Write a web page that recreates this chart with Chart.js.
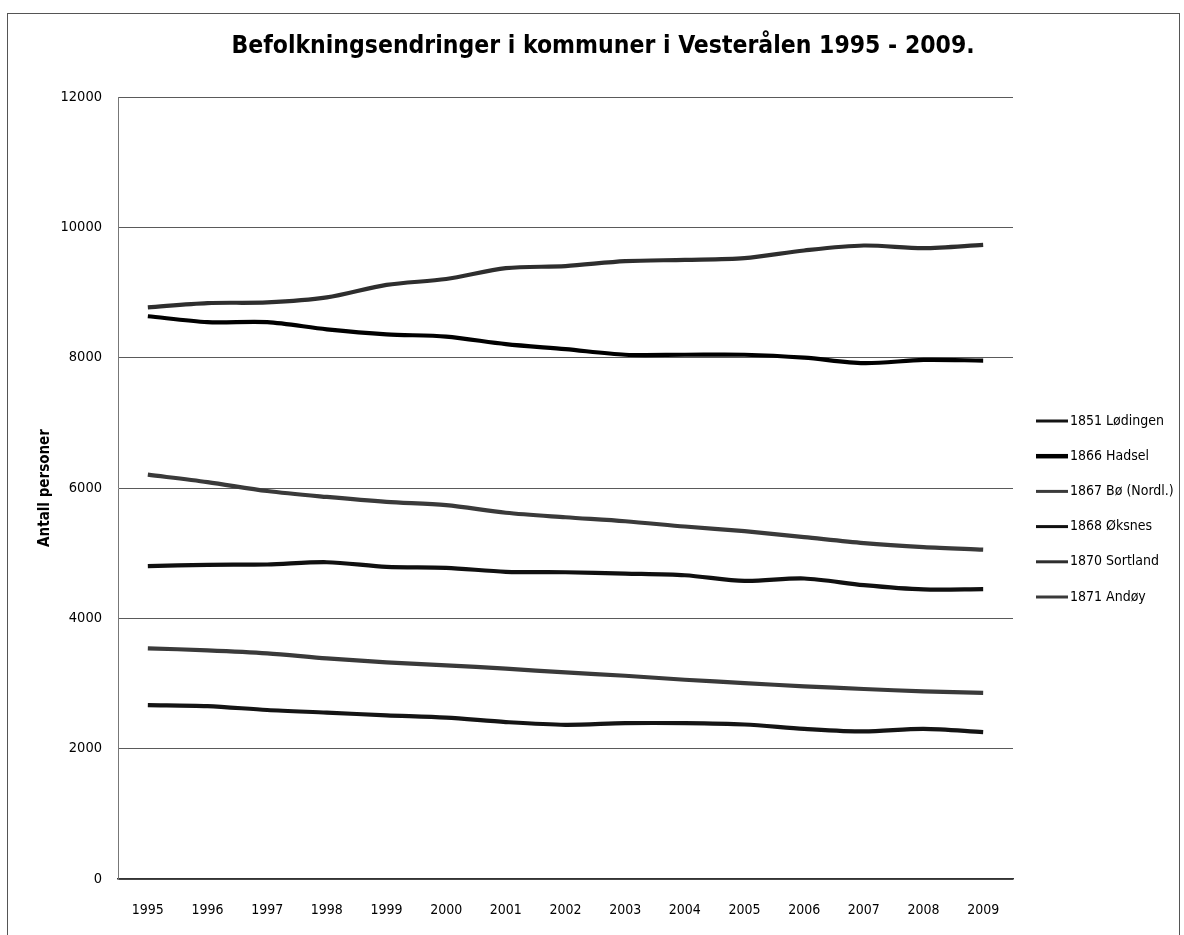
<!DOCTYPE html>
<html><head><meta charset="utf-8">
<script src="https://cdn.jsdelivr.net/npm/chart.js@4.4.1/dist/chart.umd.min.js"></script>
<style>html,body{margin:0;padding:0;background:#fff}canvas{display:block}</style>
</head><body>
<canvas id="c" width="1184" height="935" style="width:1184px;height:935px"></canvas>
<script>
const years = ['1995','1996','1997','1998','1999','2000','2001','2002','2003','2004','2005','2006','2007','2008','2009'];
const seriesNames = ['1851 Lødingen','1866 Hadsel','1867 Bø (Nordl.)','1868 Øksnes','1870 Sortland','1871 Andøy'];
const lodingen = [2669, 2654, 2593, 2553, 2511, 2476, 2408, 2366, 2391, 2391, 2371, 2305, 2264, 2305, 2254];
const hadsel   = [8636, 8545, 8545, 8435, 8358, 8323, 8207, 8130, 8045, 8045, 8045, 8000, 7915, 7965, 7955];
const bo       = [3540, 3509, 3463, 3386, 3325, 3279, 3228, 3170, 3119, 3058, 3007, 2956, 2916, 2879, 2855];
const oksnes   = [4800, 4821, 4826, 4861, 4790, 4775, 4714, 4707, 4687, 4661, 4574, 4611, 4509, 4443, 4447];
const sortland = [8773, 8838, 8848, 8924, 9117, 9207, 9374, 9405, 9481, 9500, 9527, 9645, 9721, 9680, 9730];
const andoy    = [6204, 6091, 5954, 5863, 5787, 5737, 5620, 5551, 5490, 5409, 5337, 5246, 5154, 5093, 5053];
const yTicks = [0, 2000, 4000, 6000, 8000, 10000, 12000];

const FONT = "'Liberation Sans Narrow', 'Arial Narrow', 'DejaVu Sans Condensed', 'Liberation Sans', sans-serif";
const colors = ['#141414', '#000000', '#3a3a3a', '#101010', '#2e2e2e', '#3a3a3a'];
const widths = [3, 4.5, 3, 3, 3, 3];
const allSeries = [lodingen, hadsel, bo, oksnes, sortland, andoy];

const frame = {
  id: 'frame',
  beforeDraw(chart) {
    const ctx = chart.ctx;
    ctx.save();
    ctx.fillStyle = '#fff';
    ctx.fillRect(0, 0, chart.width, chart.height);
    ctx.strokeStyle = '#555';
    ctx.lineWidth = 1;
    ctx.strokeRect(7.5, 13.5, 1172, 940);
    ctx.restore();
  }
};

const sideLegend = {
  id: 'sideLegend',
  afterDraw(chart) {
    const ctx = chart.ctx;
    const ca = chart.chartArea;
    const x0 = ca.right + 23, len = 32, y0 = ca.top + 324, step = 35.2;
    ctx.save();
    chart.data.datasets.forEach((ds, i) => {
      const y = y0 + i * step;
      ctx.strokeStyle = ds.borderColor;
      ctx.lineWidth = widths[i];
      ctx.beginPath();
      ctx.moveTo(x0, y);
      ctx.lineTo(x0 + len, y);
      ctx.stroke();
      ctx.fillStyle = '#000';
      ctx.font = '14px ' + FONT;
      ctx.textAlign = 'left';
      ctx.textBaseline = 'middle';
      ctx.fillText(ds.label, x0 + len + 2, y);
    });
    ctx.restore();
  }
};

new Chart(document.getElementById('c'), {
  type: 'line',
  data: {
    labels: years,
    datasets: allSeries.map((d, i) => ({
      label: seriesNames[i],
      data: d,
      borderColor: colors[i],
      backgroundColor: colors[i],
      borderWidth: 4.2,
      pointRadius: 0,
      tension: 0.3,
      fill: false
    }))
  },
  options: {
    responsive: false,
    animation: false,
    layout: { padding: { left: 22, right: 0, top: 0, bottom: 0 } },
    plugins: {
      legend: { display: false },
      tooltip: { enabled: false },
      title: {
        display: true,
        text: 'Befolkningsendringer i kommuner i Vesterålen 1995 - 2009.',
        color: '#000',
        font: { family: FONT, size: 24.5, weight: 'bold', lineHeight: 1.2 },
        padding: { top: 32, bottom: 35.6 }
      }
    },
    scales: {
      x: {
        offset: true,
        grid: { display: false, drawTicks: false },
        border: { display: true, color: '#333', width: 1.5 },
        ticks: { color: '#000', font: { family: FONT, size: 14 }, padding: 23, maxRotation: 0 },
        afterFit(s) { s.height = 56; }
      },
      y: {
        min: 0, max: 12000,
        afterBuildTicks(s) { s.ticks = yTicks.map(v => ({ value: v })); },
        grid: { color: '#5a5a5a', lineWidth: 1, drawTicks: false },
        border: { display: true, color: '#777', width: 1 },
        ticks: { color: '#000', font: { family: FONT, size: 14.5 }, padding: 16, callback: v => String(v) },
        title: {
          display: true, text: 'Antall personer', color: '#000',
          font: { family: FONT, size: 15, weight: 'bold' },
          padding: { top: 14, bottom: 0 }
        },
        afterFit(s) { s.width = 96; }
      },
      yRight: {
        position: 'right',
        display: true,
        min: 0, max: 12000,
        grid: { display: false, drawTicks: false },
        border: { display: false },
        ticks: { display: false },
        afterFit(s) { s.width = 171; }
      }
    }
  },
  plugins: [frame, sideLegend]
});
</script>
</body></html>
